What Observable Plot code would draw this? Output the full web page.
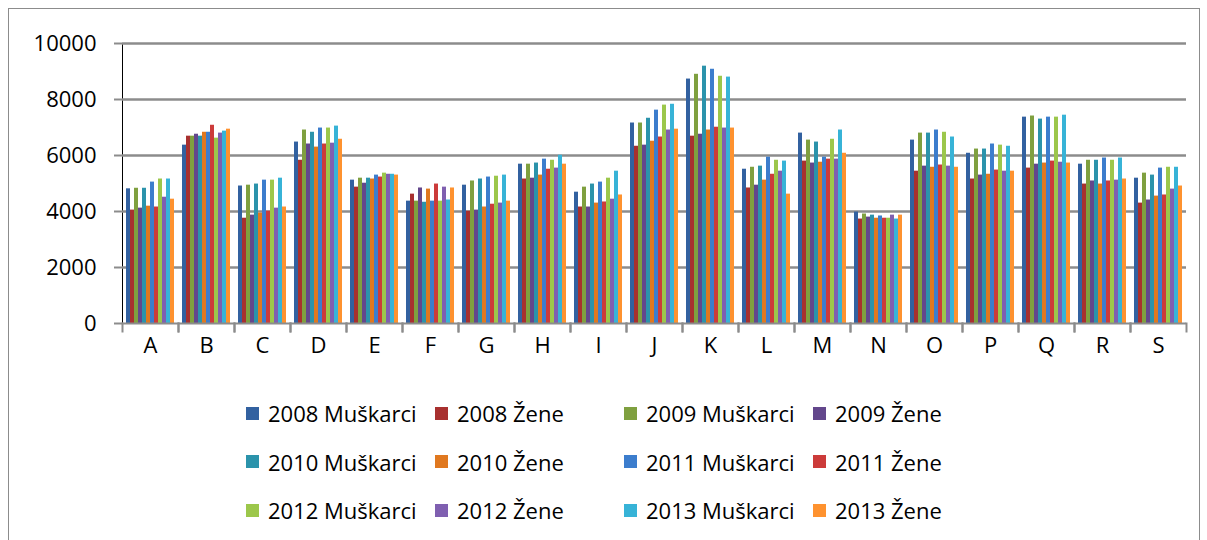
<!DOCTYPE html>
<html><head><meta charset="utf-8">
<script src="https://cdn.jsdelivr.net/npm/d3@7"></script>
<script src="https://cdn.jsdelivr.net/npm/@observablehq/plot@0.6"></script>
<style>
body{margin:0;background:#fff;font-family:"Open Sans",sans-serif;}
#wrap{position:relative;width:1207px;height:540px;overflow:hidden;background:#fff;}
#border{position:absolute;left:8px;top:8px;width:1192px;height:600px;border:1.5px solid #8c8c8c;box-sizing:border-box;}
#chart{position:absolute;left:0;top:0;}
#legend{position:absolute;left:246px;top:389px;display:grid;grid-template-columns:repeat(4,189px);grid-auto-rows:48.5px;font-size:22px;color:#000;}
.item{display:flex;align-items:center;white-space:nowrap;}
.sw{width:13px;height:13px;margin-right:9px;flex:none;}
#chart svg g[aria-label="y-axis tick"] path{stroke:#8c8c8c;stroke-width:2;}
</style></head>
<body><div id="wrap"><div id="border"></div><div id="chart"></div><div id="legend"></div></div>
<script>
const categories = ["A","B","C","D","E","F","G","H","I","J","K","L","M","N","O","P","Q","R","S"];
const seriesNames = ["2008 Muškarci","2008 Žene","2009 Muškarci","2009 Žene","2010 Muškarci","2010 Žene",
                     "2011 Muškarci","2011 Žene","2012 Muškarci","2012 Žene","2013 Muškarci","2013 Žene"];
const yTicks = [0, 2000, 4000, 6000, 8000, 10000];

const m2008 = [4810,6370,4910,6480,5120,4370,4940,5690,4690,7160,8730,5510,6800,3980,6550,6080,7370,5690,5190];
const z2008 = [4050,6690,3760,5830,4870,4620,4010,5160,4160,6330,6690,4840,5800,3730,5440,5160,5550,4980,4300];
const m2009 = [4830,6690,4940,6910,5190,4370,5090,5690,4870,7160,8900,5580,6550,3910,6800,6230,7410,5830,5370];
const z2009 = [4120,6760,3870,6410,5010,4840,4050,5190,4160,6370,6760,4940,5730,3800,5620,5300,5690,5090,4410];
const m2010 = [4830,6690,4980,6830,5190,4330,5160,5730,4980,7330,9190,5620,6480,3870,6800,6230,7300,5830,5300];
const z2010 = [4190,6830,3940,6300,5160,4800,4160,5300,4300,6510,6910,5120,5760,3760,5580,5330,5730,4980,4550];
const m2011 = [5050,6830,5120,6980,5300,4370,5230,5870,5050,7620,9080,5940,5940,3840,6910,6410,7370,5910,5550];
const z2011 = [4160,7080,4010,6410,5230,4980,4260,5510,4340,6660,7010,5330,5870,3760,5660,5480,5800,5090,4590];
const m2012 = [5160,6620,5120,6980,5370,4370,5260,5830,5190,7800,8830,5830,6580,3760,6830,6370,7370,5830,5580];
const z2012 = [4510,6800,4120,6440,5330,4870,4300,5550,4440,6910,6980,5440,5870,3870,5620,5440,5760,5120,4800];
const m2013 = [5160,6870,5190,7050,5330,4410,5300,6010,5440,7830,8800,5800,6910,3730,6660,6330,7440,5910,5580];
const z2013 = [4440,6940,4160,6580,5300,4840,4370,5690,4590,6940,6980,4620,6080,3870,5580,5440,5730,5160,4910];

const seriesValues = [m2008, z2008, m2009, z2009, m2010, z2010, m2011, z2011, m2012, z2012, m2013, z2013];
const colors = ["#3261a0","#a8302f","#7fa03f","#63478c","#2b93ab","#e0781f",
                "#3c7dcd","#cc3b3a","#9cc74b","#7f5fb0","#37b3d7","#fe922f"];

const data = [];
seriesNames.forEach((s, si) => {
  categories.forEach((c, ci) => data.push({cat: c, series: s, value: seriesValues[si][ci]}));
});

const chart = Plot.plot({
  width: 1207, height: 370,
  marginLeft: 118, marginRight: 17, marginTop: 43, marginBottom: 47,
  style: {fontFamily: "Open Sans, sans-serif", fontSize: "22px", color: "#000", background: "transparent", overflow: "visible"},
  facet: {data, x: "cat"},
  fx: {domain: categories, padding: 0, label: null, tickSize: 0, tickPadding: 14},
  x: {domain: seriesNames, paddingInner: 0, paddingOuter: 0.635, axis: null},
  y: {domain: [0, 10000], ticks: yTicks, tickSize: 8, tickPadding: 18, label: null, tickFormat: d => String(d), line: true},
  color: {domain: seriesNames, range: colors},
  marks: [
    Plot.ruleY(yTicks.filter(d => d > 0), {stroke: "#8c8c8c", strokeWidth: 2.5}),
    Plot.barY(data, {x: "series", y: "value", fill: "series"}),
    Plot.ruleY([0], {stroke: "#8c8c8c", strokeWidth: 2}),
    Plot.frame({anchor: "left", insetTop: 280, insetBottom: -8, stroke: "#8c8c8c", strokeWidth: 2}),
    Plot.frame({anchor: "right", insetTop: 280, insetBottom: -8, stroke: "#8c8c8c", strokeWidth: 2})
  ]
});
document.getElementById("chart").appendChild(chart);

const legend = document.getElementById("legend");
seriesNames.forEach((s, i) => {
  const item = document.createElement("div");
  item.className = "item";
  const sw = document.createElement("span");
  sw.className = "sw";
  sw.style.background = colors[i];
  const t = document.createElement("span");
  t.textContent = s;
  item.appendChild(sw); item.appendChild(t);
  legend.appendChild(item);
});
</script>
</body></html>
